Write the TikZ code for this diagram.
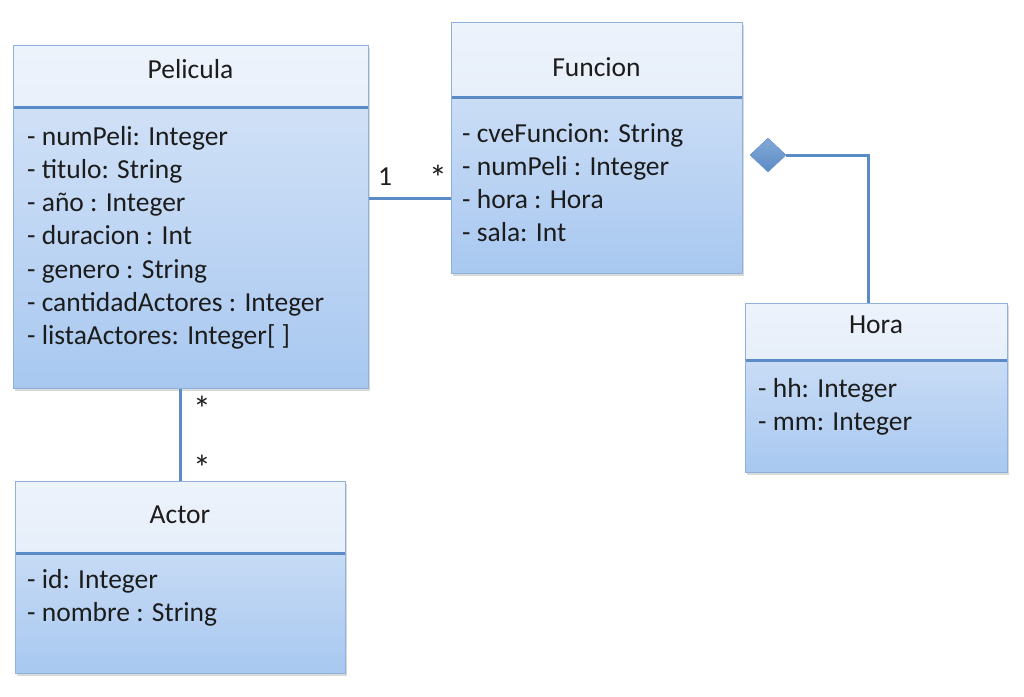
\documentclass[tikz,border=0pt]{standalone}
\usepackage{fontspec}
\setmainfont{Carlito}
\usetikzlibrary{shapes.geometric,shadows}
\definecolor{umlline}{HTML}{5B8BC7}
\definecolor{umledge}{HTML}{8FB1DA}
\definecolor{umltop}{HTML}{EDF3FB}
\definecolor{umlmid}{HTML}{D9E6F8}
\definecolor{umlbot}{HTML}{A8C8F0}
\definecolor{umltext}{HTML}{1C1C1C}
\newcommand{\umlfont}{\fontsize{27.5}{33}\selectfont}
\tikzset{
  classbox/.style={draw=umledge, line width=1pt, inner sep=0pt,
    top color=umlmid, bottom color=umlbot,
    drop shadow={shadow xshift=1.5pt, shadow yshift=-2.5pt, opacity=.3},
    path picture={
      \shade[top color=umltop, bottom color=umlmid]
        (path picture bounding box.north west) rectangle
        ([yshift=-#1pt]path picture bounding box.north east);
      \draw[umlline, line width=3pt]
        ([yshift=-#1pt]path picture bounding box.north west) --
        ([yshift=-#1pt]path picture bounding box.north east);
    }},
  title/.style={anchor=base, inner sep=0pt},
  attr/.style={anchor=base west, inner sep=0pt},
  mult/.style={anchor=base, inner sep=0pt},
  star/.style={mult, scale=1.3},
  assoc/.style={draw=umlline, line width=3pt},
  aggdiamond/.style={diamond, aspect=1, inner sep=0pt, minimum width=36pt,
    minimum height=34pt, top color=umlline!75, bottom color=umlline, draw=umlline}
}
\begin{document}
\begin{tikzpicture}[x=1pt, y=-1pt, font=\umlfont, text=umltext]
\useasboundingbox (0,0) rectangle (1024,696);

% clases
\node[classbox=62, minimum width=355pt, minimum height=343pt] (pelicula) at (190.5,216.5) {};
\node[classbox=75, minimum width=291pt, minimum height=251pt] (funcion) at (596.5,147.5) {};
\node[classbox=57, minimum width=262pt, minimum height=169pt] (hora) at (876,387.5) {};
\node[classbox=72, minimum width=330pt, minimum height=192pt] (actor) at (180,577) {};

\node[title] (peliTitle) at (190.5,78) {Pelicula};
\node[title] (funcTitle) at (596.5,76) {Funcion};
\node[title] (horaTitle) at (876,333) {Hora};
\node[title] (actorTitle) at (180,523) {Actor};

% atributos
\foreach \a [count=\i] in {- numPeli: Integer, - titulo: String, - año : Integer,
    - duracion : Int, - genero : String, - cantidadActores : Integer,
    - listaActores: Integer[ ]}
{
    \node[attr] (peli\i) at (27,{145+33.3*(\i-1)}) {\a};
}
\foreach \a [count=\i] in {- cveFuncion: String, - numPeli : Integer,
    - hora : Hora, - sala: Int}
{
    \node[attr] (func\i) at (462,{142+33.3*(\i-1)}) {\a};
}
\foreach \a [count=\i] in {- hh: Integer, - mm: Integer}
{
    \node[attr] (hora\i) at (758,{397+33.3*(\i-1)}) {\a};
}
\foreach \a [count=\i] in {- id: Integer, - nombre : String}
{
    \node[attr] (actor\i) at (27,{588+33.3*(\i-1)}) {\a};
}

% relaciones
\coordinate (pfJoin) at (410,198);
\draw[assoc] (pelicula.east |- pfJoin) -- (funcion.west |- pfJoin);
\node[mult] (multPeli) at (385,185) {1};
\node[star] (multFunc) at (438,190) {*};

\draw[assoc] (actor.north) -- (actor.north |- pelicula.south);
\node[star] (multPeliA) at (202,421) {*};
\node[star] (multActor) at (202,480) {*};

\node[aggdiamond] (agg) at (768,155) {};
\draw[assoc] (agg.east) -| ([xshift=-8pt]hora.north);

\end{tikzpicture}
\end{document}
